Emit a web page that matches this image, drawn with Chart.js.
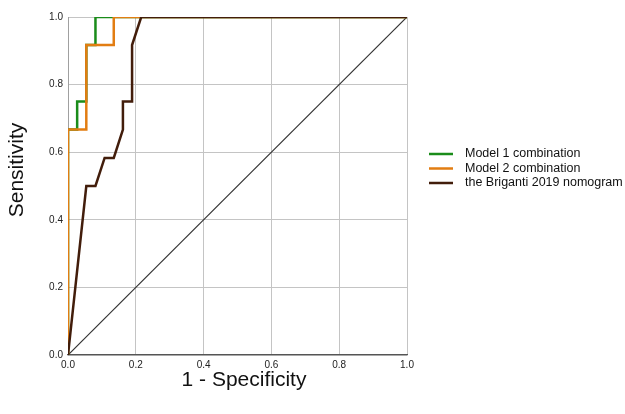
<!DOCTYPE html>
<html>
<head>
<meta charset="utf-8">
<script src="https://cdn.jsdelivr.net/npm/chart.js@4"></script>
<style>
  html, body { margin: 0; padding: 0; background: #fff; }
  #wrap { width: 625px; height: 414px; position: relative; }
</style>
</head>
<body>
<div id="wrap"><canvas id="roc"></canvas></div>
<script>
// ROC curves
const model1Fpr = [0, 0, 0.027, 0.027, 0.054, 0.054, 0.081, 0.081, 1];
const model1Tpr = [0, 0.667, 0.667, 0.75, 0.75, 0.917, 0.917, 1, 1];

const model2Fpr = [0, 0, 0.054, 0.054, 0.135, 0.135, 1];
const model2Tpr = [0, 0.667, 0.667, 0.917, 0.917, 1, 1];

const brigantiFpr = [0, 0.054, 0.081, 0.108, 0.135, 0.162, 0.162, 0.189, 0.189, 0.216, 1];
const brigantiTpr = [0, 0.5, 0.5, 0.583, 0.583, 0.667, 0.75, 0.75, 0.917, 1, 1];

const refFpr = [0, 1];
const refTpr = [0, 1];

const tickValues = [0, 0.2, 0.4, 0.6, 0.8, 1.0];

const seriesNames = ["Model 1 combination", "Model 2 combination", "the Briganti 2019 nomogram"];
const seriesColors = ["#1a8c1a", "#e27d12", "#421d0b"];

const xTitle = "1 - Specificity";
const yTitle = "Sensitivity";

const FONT = "Arial, 'Liberation Sans', sans-serif";

function toPoints(xs, ys) {
  return xs.map((x, i) => ({ x, y: ys[i] }));
}

// legend + axis titles, placed against the chart area
const extrasPlugin = {
  id: "extras",
  afterDraw(chart) {
    const { ctx, chartArea } = chart;
    ctx.save();
    ctx.fillStyle = "#111";
    ctx.font = `21px ${FONT}`;
    ctx.textAlign = "center";
    ctx.textBaseline = "middle";
    ctx.fillText(xTitle, chartArea.left + 176, 380);

    ctx.translate(17, 170);
    ctx.rotate(-Math.PI / 2);
    ctx.fillText(yTitle, 0, 0);
    ctx.restore();

    ctx.save();
    ctx.font = `12.5px ${FONT}`;
    ctx.textBaseline = "middle";
    ctx.textAlign = "left";
    const x0 = chartArea.right + 22;
    seriesNames.forEach((name, i) => {
      const y = 154 + i * 14.5;
      ctx.strokeStyle = seriesColors[i];
      ctx.lineWidth = 2.5;
      ctx.beginPath();
      ctx.moveTo(x0, y);
      ctx.lineTo(x0 + 24, y);
      ctx.stroke();
      ctx.fillStyle = "#111";
      ctx.fillText(name, x0 + 36, y);
    });
    ctx.restore();
  },
};

const lineStyle = (color, order) => ({
  borderColor: color,
  backgroundColor: color,
  borderWidth: 2.5,
  pointRadius: 0,
  tension: 0,
  fill: false,
  order,
});

new Chart(document.getElementById("roc"), {
  type: "scatter",
  data: {
    datasets: [
      { label: seriesNames[2], data: toPoints(brigantiFpr, brigantiTpr), showLine: true, ...lineStyle(seriesColors[2], 0) },
      { label: seriesNames[1], data: toPoints(model2Fpr, model2Tpr), showLine: true, ...lineStyle(seriesColors[1], 1) },
      { label: seriesNames[0], data: toPoints(model1Fpr, model1Tpr), showLine: true, ...lineStyle(seriesColors[0], 2) },
      { label: "reference", data: toPoints(refFpr, refTpr), showLine: true, ...lineStyle("#333", 3), borderWidth: 1.2 },
    ],
  },
  options: {
    responsive: true,
    maintainAspectRatio: false,
    animation: false,
    layout: { padding: { left: 0, right: 218, top: 17, bottom: 0 } },
    plugins: { legend: { display: false }, tooltip: { enabled: false } },
    scales: {
      x: {
        type: "linear",
        min: 0,
        max: 1,
        afterBuildTicks: (s) => { s.ticks = tickValues.map((v) => ({ value: v })); },
        afterFit: (s) => { s.height = 59; },
        ticks: {
          padding: 4,
          color: "#222",
          font: { family: FONT, size: 10 },
          callback: (v) => Number(v).toFixed(1),
          maxRotation: 0,
        },
        grid: { color: "#c4c4c4", lineWidth: 1, drawTicks: false },
        border: { color: "#555", width: 1.2 },
      },
      y: {
        type: "linear",
        min: 0,
        max: 1,
        afterBuildTicks: (s) => { s.ticks = tickValues.map((v) => ({ value: v })); },
        afterFit: (s) => { s.width = 68; },
        ticks: {
          padding: 5,
          color: "#222",
          font: { family: FONT, size: 10 },
          callback: (v) => Number(v).toFixed(1),
        },
        grid: { color: "#c4c4c4", lineWidth: 1, drawTicks: false },
        border: { color: "#a0a0a0", width: 1 },
      },
    },
  },
  plugins: [extrasPlugin],
});
</script>
</body>
</html>
